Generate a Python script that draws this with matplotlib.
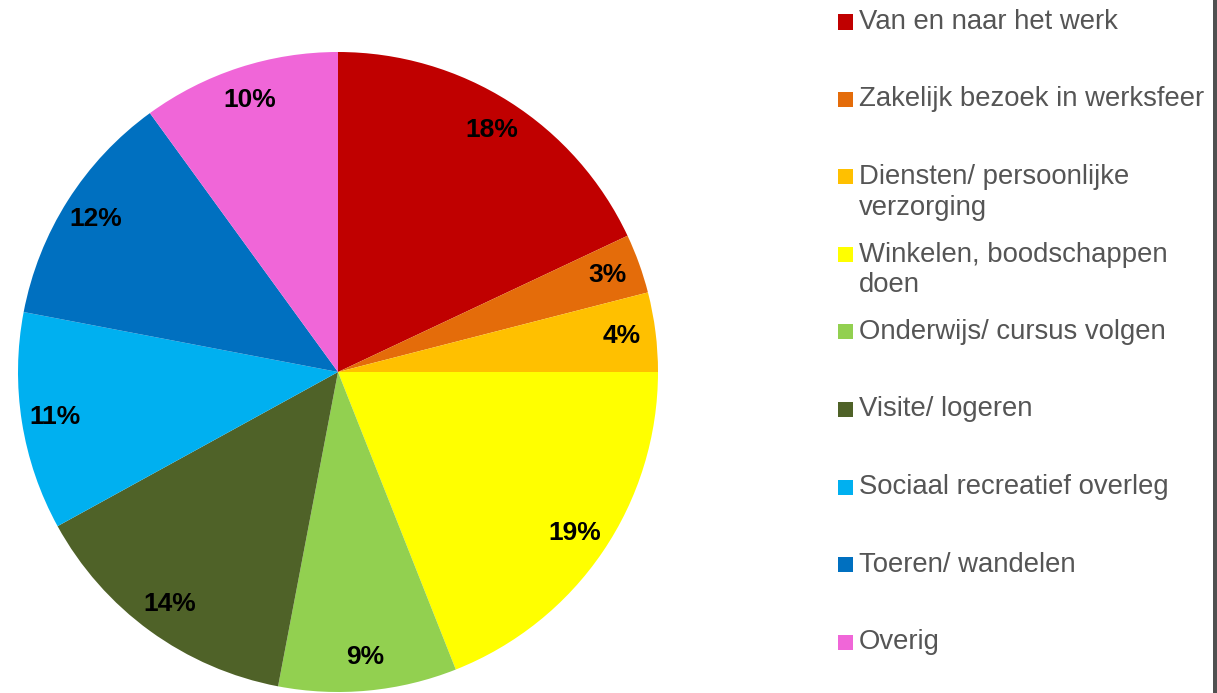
import matplotlib
matplotlib.use("Agg")
import matplotlib.pyplot as plt
from matplotlib.patches import Rectangle

categories = [
    "Van en naar het werk",
    "Zakelijk bezoek in werksfeer",
    "Diensten/ persoonlijke\nverzorging",
    "Winkelen, boodschappen\ndoen",
    "Onderwijs/ cursus volgen",
    "Visite/ logeren",
    "Sociaal recreatief overleg",
    "Toeren/ wandelen",
    "Overig",
]
values = [18, 3, 4, 19, 9, 14, 11, 12, 10]
colors = ["#C00000", "#E46C0A", "#FFC000", "#FFFF00", "#92D050",
          "#4F6228", "#00B0F0", "#0070C0", "#F066D8"]

W, H = 1217, 693
fig = plt.figure(figsize=(W / 100, H / 100), dpi=100)
fig.patch.set_facecolor("white")

# pie axes: center (338, 372) px from top, radius 320 px
cx, cy, r = 338, 372, 320
ax = fig.add_axes([(cx - r) / W, (H - cy - r) / H, 2 * r / W, 2 * r / H])
wedges, texts, autotexts = ax.pie(
    values, colors=colors, startangle=90, counterclock=False,
    autopct="%1.0f%%", pctdistance=0.895, radius=1.0,
    wedgeprops=dict(linewidth=0),
    textprops=dict(fontsize=19, fontweight="bold", color="black",
                   family="Liberation Sans"),
)
ax.set_xlim(-1, 1)
ax.set_ylim(-1, 1)
ax.set_aspect("equal")
ax.axis("off")

# legend drawn manually
y0, dy, line_h = 22, 77.5, 31
for i, (lab, col) in enumerate(zip(categories, colors)):
    y = y0 + i * dy
    fig.patches.append(Rectangle((838 / W, 1 - (y + 7.5) / H), 15 / W, 15 / H,
                                 transform=fig.transFigure, facecolor=col,
                                 edgecolor="none"))
    for j, line in enumerate(lab.split("\n")):
        fig.text(859 / W, 1 - (y + j * line_h) / H, line, fontsize=19.8,
                 color="#555555", family="Liberation Sans",
                 ha="left", va="center")

# right border
fig.patches.append(Rectangle((1213 / W, 0), 4 / W, 1, transform=fig.transFigure,
                             facecolor="#505050", edgecolor="none"))

fig.savefig("out.png", dpi=100)
